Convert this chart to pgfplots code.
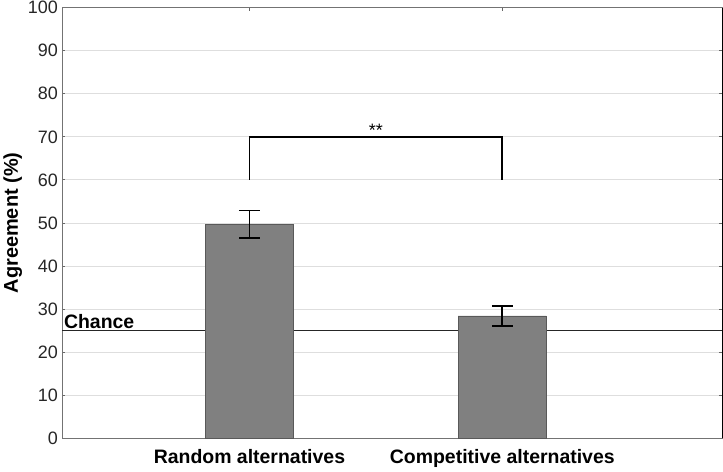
\documentclass[border=0pt]{standalone}
\usepackage{pgfplots}
\pgfplotsset{compat=1.18}
\usepackage{fontspec}
\setmainfont{Liberation Sans}
\begin{document}
\begin{tikzpicture}
\begin{axis}[
  scale only axis, width=659bp, height=430bp,
  xmin=0.26, xmax=2.87, ymin=0, ymax=100,
  ytick={0,10,...,100},
  xtick={1,2}, xticklabels={Random alternatives, Competitive alternatives},
  ymajorgrids, grid style={black!13, line width=0.9pt},
  axis line style={black!55, line width=1pt},
  major tick length=3bp,
  tick style={black!60, line width=0.8pt},
  tick align=inside,
  /pgf/number format/assume math mode=true,
  yticklabel style={font=\fontsize{18}{20}\selectfont, color=black!85, xshift=-1bp, inner ysep=1.3bp},
  xticklabel style={font=\fontsize{19.5}{22}\selectfont\bfseries, yshift=-8bp},
  ylabel={\bfseries Agreement (\%)},
  ylabel style={font=\fontsize{20}{22}\selectfont, yshift=-1bp},
  clip=false,
]
\addplot[black!85, line width=1.5pt] coordinates {(0.26,25) (2.87,25)};
\addplot[ybar, bar width=88bp, fill=black!50, draw=black!65, line width=0.7pt,
  error bars/.cd, y dir=both, y explicit,
  error bar style={black, line width=1.6pt},
  error mark options={rotate=90, mark size=10.5bp, line width=1.6pt, black}]
  coordinates {(1,49.7) +- (0,3.2) (2,28.4) +- (0,2.3)};
\addplot[black, line width=1.6pt] coordinates {(1,60) (1,70) (2,70) (2,60)};
\node[anchor=south, font=\fontsize{18}{20}\selectfont, inner sep=0.5bp] at (axis cs:1.5,70) {**};
\node[anchor=south west, font=\fontsize{19.5}{22}\selectfont\bfseries, inner sep=1.5bp] at (axis cs:0.26,25) {Chance};
\draw[black, line width=1.2pt] (rel axis cs:1,0) -- (rel axis cs:1,1);
\end{axis}
\end{tikzpicture}
\end{document}
